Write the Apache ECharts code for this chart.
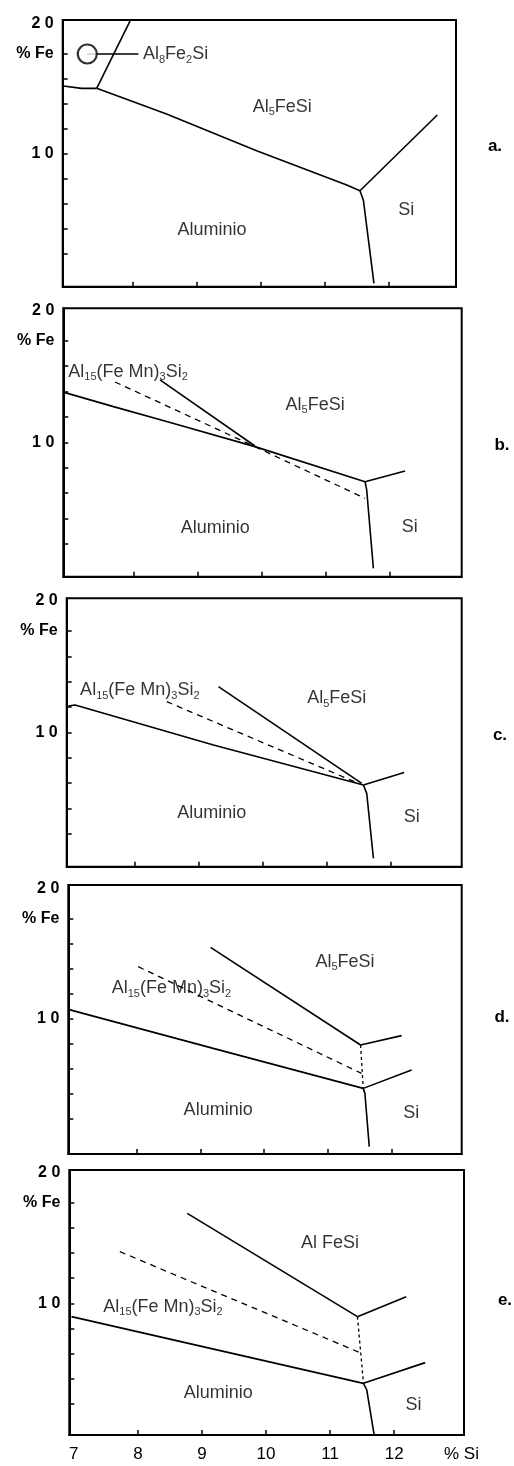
<!DOCTYPE html>
<html><head><meta charset="utf-8">
<script src="https://cdn.jsdelivr.net/npm/echarts@6/dist/echarts.min.js"></script>
<style>html,body{margin:0;padding:0;background:#fff}#c{width:514px;height:1466px}</style>
</head><body><div id="c"></div>
<script>
// ---- axis ticks / labels ----
const xTicks = [8, 9, 10, 11, 12];
const xTickLabels = [7, 8, 9, 10, 11, 12, 13.05];
const yTicks = [0.2, 0.4, 0.6, 0.8, 1.0, 1.2, 1.4, 1.6, 1.8];
const yTickLabels = [1.0, 1.8, 2.04];
const panelNames = ['a.', 'b.', 'c.', 'd.', 'e.'];

// ---- panel a ----
const aLeft = [[6.915, 1.539], [7.20, 1.52], [7.437, 1.52]];
const aAl8 = [[7.96, 2.06], [7.437, 1.52]];
const aMain = [[7.437, 1.52], [8.53, 1.315], [9.94, 1.021], [11.35, 0.747], [11.557, 0.701]];
const aSiUp = [[11.557, 0.701], [12.767, 1.307]];
const aDown = [[11.557, 0.701], [11.61, 0.627], [11.776, -0.04]];
const aCircle = [[7.29, 1.795]];
const aLeader = [[7.29, 1.795], [8.09, 1.795]];

// ---- panel b ----
const bLower = [[6.932, 1.391], [7.69, 1.281], [8.52, 1.163], [9.90, 0.966], [11.62, 0.690]];
const bUpper = [[8.417, 1.491], [9.90, 0.971]];
const bDashed = [[7.714, 1.475], [9.90, 0.966], [11.62, 0.559]];
const bSiUp = [[11.62, 0.690], [12.245, 0.774]];
const bDown = [[11.62, 0.690], [11.646, 0.625], [11.75, 0.008]];

// ---- panel c ----
const cLower = [[6.957, 1.208], [7.061, 1.216], [9.226, 0.90], [11.572, 0.584]];
const cDashed = [[8.495, 1.242], [11.494, 0.597]];
const cUpper = [[9.304, 1.361], [11.546, 0.597]];
const cSiUp = [[11.572, 0.584], [12.209, 0.682]];
const cDown = [[11.572, 0.584], [11.624, 0.518], [11.729, 0.005]];

// ---- panel d ----
const dLower = [[6.928, 1.077], [9.203, 0.765], [11.556, 0.445]];
const dSiLow = [[11.556, 0.445], [12.314, 0.592]];
const dUpper = [[9.161, 1.573], [11.514, 0.792]];
const dSiUp = [[11.514, 0.792], [12.157, 0.867]];
const dDashed = [[8.026, 1.419], [11.529, 0.565]];
const dDotted = [[11.514, 0.792], [11.556, 0.445]];
const dDown = [[11.556, 0.445], [11.582, 0.405], [11.65, -0.021]];

// ---- panel e ----
const eLower = [[6.964, 0.894], [11.521, 0.363]];
const eSiLow = [[11.521, 0.363], [12.484, 0.528]];
const eUpper = [[8.771, 1.716], [11.427, 0.894]];
const eSiUp = [[11.427, 0.894], [12.188, 1.053]];
const eDashed = [[7.719, 1.411], [11.469, 0.607]];
const eDotted = [[11.427, 0.894], [11.479, 0.602], [11.521, 0.363]];
const eDown = [[11.521, 0.363], [11.573, 0.310], [11.688, -0.048]];

// ---- region labels [x, y, text, align] ----
const AL15 = '{n|Al}{s|15}{n|(Fe Mn)}{s|3}{n|Si}{s|2}';
const AL5 = '{n|Al}{s|5}{n|FeSi}';
const aLabels = [[10.34, 1.372, AL5, 'c'], [9.24, 0.387, '{n|Aluminio}', 'c'], [12.28, 0.547, '{n|Si}', 'c'], [8.16, 1.795, '{n|Al}{s|8}{n|Fe}{s|2}{n|Si}', 'l']];
const bLabels = [[6.984, 1.556, AL15, 'l'], [10.84, 1.294, AL5, 'c'], [9.28, 0.323, '{n|Aluminio}', 'c'], [12.32, 0.336, '{n|Si}', 'c']];
const cLabels = [[7.14, 1.334, AL15, 'l'], [11.155, 1.268, AL5, 'c'], [9.20, 0.361, '{n|Aluminio}', 'c'], [12.33, 0.334, '{n|Si}', 'c']];
const dLabels = [[7.61, 1.245, AL15, 'l'], [11.27, 1.459, AL5, 'c'], [9.28, 0.272, '{n|Aluminio}', 'c'], [12.31, 0.245, '{n|Si}', 'c']];
const eLabels = [[7.46, 0.973, AL15, 'l'], [11.0, 1.477, '{n|Al FeSi}', 'c'], [9.255, 0.284, '{n|Aluminio}', 'c'], [12.30, 0.191, '{n|Si}', 'c']];

// ---- layout (pixel frames of each scanned panel) ----
const frames = [
  {left: 62.7, top: 20,    width: 393.3, height: 266.7, xr: [6.905, 13.06], yr: [-0.067, 2.067], tag: [495, 146]},
  {left: 63.3, top: 308.3, width: 398.4, height: 268.4, xr: [6.906, 13.13], yr: [-0.058, 2.055], tag: [502, 445]},
  {left: 66.7, top: 598.3, width: 395.0, height: 268.4, xr: [6.93, 13.11],  yr: [-0.061, 2.058], tag: [500, 735]},
  {left: 68.3, top: 885,   width: 393.4, height: 269.0, xr: [6.93, 13.10],  yr: [-0.08, 2.072],  tag: [502, 1017]},
  {left: 69.3, top: 1170,  width: 394.7, height: 265.0, xr: [6.93, 13.09],  yr: [-0.048, 2.061], tag: [505, 1300]}
];

const FONT = 'Liberation Sans, Arial, sans-serif';
const INK = '#000';
const rich = {
  n: {fontSize: 18, fontFamily: FONT, color: INK, lineHeight: 22, verticalAlign: 'middle'},
  s: {fontSize: 11, fontFamily: FONT, color: INK, lineHeight: 11, verticalAlign: 'bottom'}
};

const grids = [], xAxes = [], yAxes = [], series = [], graphics = [];
frames.forEach((f, i) => {
  grids.push({left: f.left, top: f.top, width: f.width, height: f.height, show: true,
    borderColor: INK, borderWidth: 2, backgroundColor: 'transparent', outerBoundsMode: 'none'});
  xAxes.push({type: 'value', gridIndex: i, min: f.xr[0], max: f.xr[1], position: 'bottom',
    axisLine: {show: true, onZero: false, lineStyle: {color: INK, width: 2}},
    axisTick: {show: true, inside: true, length: 5, customValues: xTicks, lineStyle: {color: INK, width: 1.5}},
    axisLabel: {show: i === 4, customValues: xTickLabels, margin: 11, fontSize: 17, fontFamily: FONT, color: INK,
      formatter: v => v > 12.5 ? '% Si' : String(Math.round(v))},
    splitLine: {show: false}});
  yAxes.push({type: 'value', gridIndex: i, min: f.yr[0], max: f.yr[1], position: 'left',
    axisLine: {show: true, onZero: false, lineStyle: {color: INK, width: 2}},
    axisTick: {show: true, inside: true, length: 5, customValues: yTicks, lineStyle: {color: INK, width: 1.5}},
    axisLabel: {show: true, customValues: yTickLabels, margin: 9, fontSize: 16, fontWeight: 'bold', fontFamily: FONT, color: INK,
      formatter: v => v > 1.9 ? '2 0' : (v > 1.5 ? '% Fe' : '1 0')},
    splitLine: {show: false}});
  graphics.push({type: 'text', x: f.tag[0], y: f.tag[1],
    style: {text: panelNames[i], font: 'bold 17px ' + FONT, fill: INK, align: 'center', verticalAlign: 'middle'}});
});

function line(i, data, kind) {
  const ls = {color: INK, width: 1.6, type: 'solid'};
  if (kind === 'dash') { ls.type = [6, 5]; ls.width = 1.3; }
  if (kind === 'dot') { ls.type = [3, 3]; ls.width = 1.3; }
  series.push({type: 'line', xAxisIndex: i, yAxisIndex: i, data: data, symbol: 'none',
    lineStyle: ls, silent: true, animation: false, z: 3});
}
function labels(i, arr) {
  series.push({type: 'scatter', xAxisIndex: i, yAxisIndex: i, symbolSize: 0, silent: true, animation: false, z: 5,
    data: arr.map(d => ({value: [d[0], d[1]],
      label: {show: true, formatter: d[2], rich: rich, color: INK, fontFamily: FONT, fontSize: 18,
        position: d[3] === 'l' ? 'right' : 'inside', distance: 0}}))});
}

// panel a
[aLeft, aAl8, aMain, aSiUp, aDown, aLeader].forEach(d => line(0, d));
series.push({type: 'scatter', xAxisIndex: 0, yAxisIndex: 0, data: aCircle, symbol: 'circle', symbolSize: 19,
  itemStyle: {color: '#fff', borderColor: INK, borderWidth: 2.2}, silent: true, animation: false, z: 4});
labels(0, aLabels);
// panel b
[bLower, bUpper, bSiUp, bDown].forEach(d => line(1, d));
line(1, bDashed, 'dash');
labels(1, bLabels);
// panel c
[cLower, cUpper, cSiUp, cDown].forEach(d => line(2, d));
line(2, cDashed, 'dash');
labels(2, cLabels);
// panel d
[dLower, dSiLow, dUpper, dSiUp, dDown].forEach(d => line(3, d));
line(3, dDashed, 'dash');
line(3, dDotted, 'dot');
labels(3, dLabels);
// panel e
[eLower, eSiLow, eUpper, eSiUp, eDown].forEach(d => line(4, d));
line(4, eDashed, 'dash');
line(4, eDotted, 'dot');
labels(4, eLabels);

const chart = echarts.init(document.getElementById('c'), null, {renderer: 'canvas'});
chart.setOption({
  animation: false, backgroundColor: '#fff',
  grid: grids, xAxis: xAxes, yAxis: yAxes, series: series, graphic: graphics
});
</script></body></html>
